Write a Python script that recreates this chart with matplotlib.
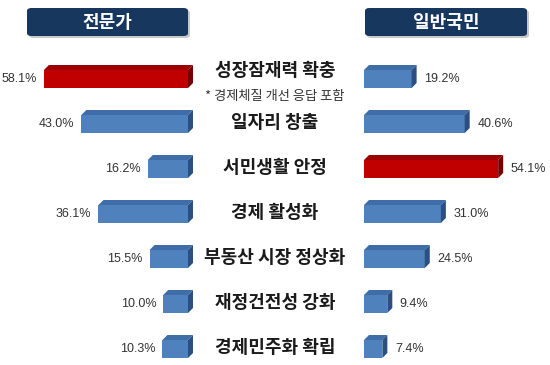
import matplotlib
matplotlib.use("Agg")
import matplotlib.pyplot as plt
from matplotlib.patches import Polygon, FancyBboxPatch
import matplotlib.transforms as mtransforms

# --- data ---
categories = ["성장잠재력 확충", "일자리 창출", "서민생활 안정", "경제 활성화",
              "부동산 시장 정상화", "재정건전성 강화", "경제민주화 확립"]
expert = [58.1, 43.0, 16.2, 36.1, 15.5, 10.0, 10.3]
public = [19.2, 40.6, 54.1, 31.0, 24.5, 9.4, 7.4]
expert_hi = [0]   # index of the highlighted (red) bar
public_hi = [2]
group_titles = ["전문가", "일반국민"]
footnote = "* 경제체질 개선 응답 포함"

W, H = 550, 365
s = 2.48          # pixels per percent
row_px = 45       # pixels between rows
first_row = 79    # pixel y of first row centre

blue = ("#4F81BD", "#3E6DA8", "#2B4F80")
red = ("#C00000", "#9C0000", "#760000")

fig = plt.figure(figsize=(5.5, 3.65), dpi=100)

axL = fig.add_axes([0, 0, 200 / W, 1])
axR = fig.add_axes([350 / W, 0, 200 / W, 1])
axL.set_xlim(188 / s, -12 / s)
axR.set_xlim(-14 / s, 186 / s)
for ax in (axL, axR):
    ax.set_ylim((H - first_row) / row_px, -first_row / row_px)
    ax.axis("off")

h = 18 / row_px
d = 5 / s
e = 5 / row_px


def bar3d(ax, i, v, cols, direction):
    face, top, side = cols
    ax.barh(i, v, height=h, color=face, edgecolor="none")
    dx = d * direction
    yt, yb = i - h / 2, i + h / 2
    ax.add_patch(Polygon([(0, yt), (v, yt), (v + dx, yt - e), (dx, yt - e)],
                         closed=True, facecolor=top, edgecolor="none"))
    xr = 0 if direction < 0 else v
    ax.add_patch(Polygon([(xr, yt), (xr, yb), (xr + dx, yb - e), (xr + dx, yt - e)],
                         closed=True, facecolor=side, edgecolor="none"))


num_font = ["Liberation Sans", "DejaVu Sans"]

for i, v in enumerate(expert):
    bar3d(axL, i, v, red if i in expert_hi else blue, -1)
    axL.annotate(f"{v:.1f}%", (v, i), xytext=(-5, 0), textcoords="offset points",
                 ha="right", va="center", fontsize=9, color="#333333",
                 family=num_font)

for i, v in enumerate(public):
    bar3d(axR, i, v, red if i in public_hi else blue, 1)
    axR.annotate(f"{v:.1f}%", (v, i), xytext=(9, 0), textcoords="offset points",
                 ha="left", va="center", fontsize=9, color="#333333",
                 family=num_font)

# category labels in the middle column
tr = mtransforms.blended_transform_factory(fig.transFigure, axL.transData)
kfont = ["Noto Sans CJK KR", "DejaVu Sans"]
for i, cat in enumerate(categories):
    dy = -0.2 if i == 0 else -0.04
    fig.text(0.5, i + dy, cat, transform=tr, ha="center", va="center",
             fontsize=13, fontweight="bold", color="#1a1a1a", family=kfont)
fig.text(0.5, 0.38, footnote, transform=tr, ha="center", va="center",
         fontsize=9.5, color="#333333", family=kfont)

# header boxes
boxes = [(27, 8, 161, 28), (365, 8, 162, 28)]
for (x0, y0, bw, bh), title in zip(boxes, group_titles):
    shadow = FancyBboxPatch(((x0 + 2) / W, 1 - (y0 + bh + 2) / H), bw / W, bh / H,
                            boxstyle="round,pad=0,rounding_size=0.008",
                            transform=fig.transFigure, facecolor="#c8c8c8",
                            edgecolor="none")
    box = FancyBboxPatch((x0 / W, 1 - (y0 + bh) / H), bw / W, bh / H,
                         boxstyle="round,pad=0,rounding_size=0.008",
                         transform=fig.transFigure, facecolor="#17375E",
                         edgecolor="none")
    fig.patches.extend([shadow, box])
    fig.text((x0 + bw / 2) / W, 1 - (y0 + bh / 2) / H, title, ha="center",
             va="center", fontsize=13, fontweight="bold", color="white",
             family=kfont)

fig.savefig("out.png", dpi=100)
